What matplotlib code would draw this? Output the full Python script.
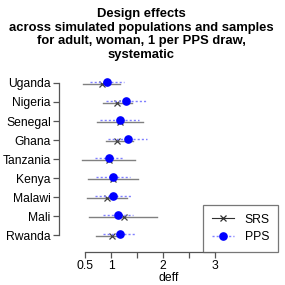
import matplotlib
matplotlib.use("Agg")
import matplotlib.pyplot as plt
from matplotlib.lines import Line2D

countries = ["Uganda", "Nigeria", "Senegal", "Ghana", "Tanzania",
             "Kenya", "Malawi", "Mali", "Rwanda"]
srs_mid = [0.82, 1.12, 1.17, 1.11, 0.96, 1.03, 0.92, 1.24, 1.01]
srs_lo  = [0.46, 0.85, 0.74, 0.90, 0.45, 0.55, 0.54, 0.58, 0.72]
srs_hi  = [1.17, 1.41, 1.62, 1.42, 1.47, 1.51, 1.30, 1.88, 1.20]
pps_mid = [0.92, 1.28, 1.17, 1.32, 0.97, 1.03, 1.03, 1.14, 1.17]
pps_lo  = [0.60, 0.90, 0.78, 0.95, 0.69, 0.71, 0.69, 0.85, 0.85]
pps_hi  = [1.25, 1.67, 1.54, 1.70, 1.25, 1.37, 1.40, 1.43, 1.48]
xticks = [0.5, 1, 1.5, 2, 2.5, 3]
xticklabels = ["0.5", "1", "", "2", "", "3"]

plt.rcParams['font.family'] = ['Liberation Sans', 'DejaVu Sans']

fig = plt.figure(figsize=(2.85, 2.85), dpi=100)
W = H = 285.0
ax = fig.add_axes([59 / W, 1 - 251.5 / H, (278 - 59) / W, (251.5 - 66.6) / H])

n = len(countries)
ys = [n - i for i in range(n)]
srs_col = '#808080'
for y, m, lo, hi in zip(ys, srs_mid, srs_lo, srs_hi):
    ax.plot([lo, hi], [y - 0.03, y - 0.03], color=srs_col, lw=1.0, zorder=2)
    ax.plot([m], [y - 0.03], marker='x', color='#404040', ms=5, mew=0.9, ls='none', zorder=3)
for y, m, lo, hi in zip(ys, pps_mid, pps_lo, pps_hi):
    ax.plot([lo, hi], [y + 0.07, y + 0.07], color='#7f7fff', lw=1.0, ls=(0, (1.5, 1.5)), zorder=4)
    ax.plot([m], [y + 0.07], marker='o', color='#0000ff', ms=5.2, ls='none', zorder=5)

ax.set_xlim(0, 4.21)
ax.set_ylim(0.5 - 0.36, 9.5 + 0.36)
for s in ['top', 'right']:
    ax.spines[s].set_visible(False)
ax.spines['left'].set_bounds(1, 9)
ax.spines['bottom'].set_bounds(0.5, 3)
for s in ['left', 'bottom']:
    ax.spines[s].set_color('#555555')
    ax.spines[s].set_linewidth(0.9)
ax.set_yticks(ys)
ax.set_yticklabels(countries, fontsize=8.7)
ax.set_xticks(xticks)
ax.set_xticklabels(xticklabels, fontsize=8.7)
ax.tick_params(axis='both', length=4, width=0.9, color='#555555', pad=2)
ax.set_xlabel('deff', fontsize=8.7, labelpad=0)

handles = [
    Line2D([], [], color='#303030', lw=0.8, marker='x', ms=5, mew=0.9),
    Line2D([], [], color='#7f7fff', lw=1.0, ls=(0, (1.5, 1.5)), marker='o',
           ms=5.2, mfc='#0000ff', mec='#0000ff'),
]
leg = ax.legend(handles, ['SRS', 'PPS'], loc='lower right', bbox_to_anchor=(1.0, 0.0),
                borderaxespad=0, fontsize=8.7, frameon=True, fancybox=False,
                handlelength=1.8, handletextpad=0.9, borderpad=0.7, labelspacing=0.45)
leg.get_frame().set_edgecolor('#555555')
leg.get_frame().set_linewidth(0.9)

title = "Design effects\nacross simulated populations and samples\nfor adult, woman, 1 per PPS draw,\nsystematic"
fig.text(141 / W, 1 - 8 / H, title, ha='center', va='top', fontsize=9.4,
         fontweight='bold', linespacing=1.17)

fig.savefig('out.png', dpi=100)
